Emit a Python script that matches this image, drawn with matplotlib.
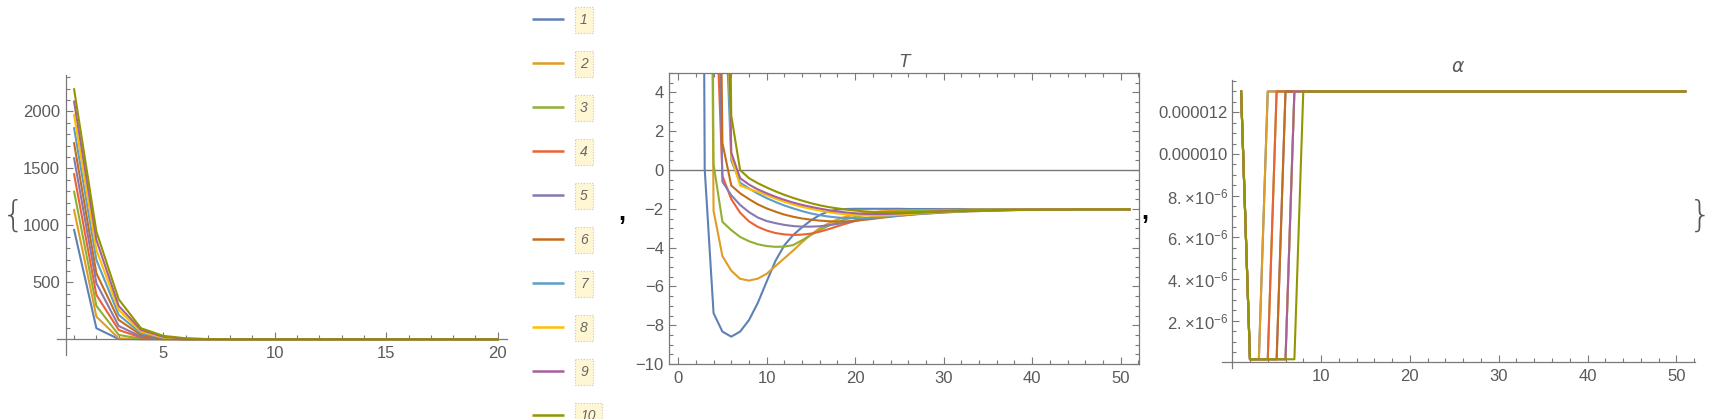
import matplotlib
matplotlib.use('Agg')
import numpy as np
import matplotlib.pyplot as plt
import matplotlib.ticker as mticker
from matplotlib.patches import Rectangle

plt.rcParams['font.family'] = ['Liberation Sans', 'DejaVu Sans']
plt.rcParams['mathtext.fontset'] = 'custom'
plt.rcParams['mathtext.rm'] = 'Liberation Sans'

# --- data -------------------------------------------------------------
colors = ['#5E81B5', '#E19C24', '#8FB032', '#EB6235', '#8778B3',
          '#C56E1A', '#5D9EC7', '#FFBF00', '#A5609D', '#929600']
labels = ['1', '2', '3', '4', '5', '6', '7', '8', '9', '10']

# first panel, x = 1..20
x1 = list(range(1, 21))
p1 = [
    [960, 97, 2, 0, 0, 0, 0, 0, 0, 0, 0, 0, 0, 0, 0, 0, 0, 0, 0, 0],
    [1135, 199, 8, 1, 0, 0, 0, 0, 0, 0, 0, 0, 0, 0, 0, 0, 0, 0, 0, 0],
    [1296, 293, 38, 6, 1, 0, 0, 0, 0, 0, 0, 0, 0, 0, 0, 0, 0, 0, 0, 0],
    [1449, 389, 82, 15, 2, 0, 0, 0, 0, 0, 0, 0, 0, 0, 0, 0, 0, 0, 0, 0],
    [1589, 492, 117, 23, 4, 1, 0, 0, 0, 0, 0, 0, 0, 0, 0, 0, 0, 0, 0, 0],
    [1721, 579, 170, 38, 7, 1, 0, 0, 0, 0, 0, 0, 0, 0, 0, 0, 0, 0, 0, 0],
    [1853, 697, 214, 53, 11, 2, 0, 0, 0, 0, 0, 0, 0, 0, 0, 0, 0, 0, 0, 0],
    [1970, 784, 258, 67, 15, 3, 0, 0, 0, 0, 0, 0, 0, 0, 0, 0, 0, 0, 0, 0],
    [2087, 872, 293, 82, 22, 5, 1, 0, 0, 0, 0, 0, 0, 0, 0, 0, 0, 0, 0, 0],
    [2195, 945, 351, 97, 30, 9, 2, 0, 0, 0, 0, 0, 0, 0, 0, 0, 0, 0, 0, 0],
]

# T panel, x = 1..51
x2 = list(range(1, 52))
T = [
    [220, 90, 0.05, -7.38, -8.33, -8.59, -8.33, -7.74, -6.85, -5.75,
     -4.68, -3.88, -3.35, -2.95, -2.6, -2.32, -2.13, -2.04, -2.01, -2.0,
     -2.0, -2.0, -2.0, -2.0, -2.0, -2.01, -2.01, -2.01, -2.01, -2.01,
     -2.01, -2.01, -2.02, -2.02, -2.02, -2.02, -2.02, -2.02, -2.02, -2.02,
     -2.02, -2.02, -2.02, -2.02, -2.03, -2.03, -2.03, -2.03, -2.03, -2.03, -2.03],
    [260, 180, 60, -2.1, -4.44, -5.19, -5.61, -5.7, -5.6, -5.35,
     -4.95, -4.55, -4.15, -3.72, -3.33, -3.0, -2.75, -2.55, -2.4, -2.3,
     -2.22, -2.17, -2.13, -2.11, -2.09, -2.08, -2.07, -2.06, -2.06, -2.05,
     -2.05, -2.05, -2.04, -2.04, -2.04, -2.04, -2.04, -2.03, -2.03, -2.03,
     -2.03, -2.03, -2.03, -2.03, -2.03, -2.03, -2.03, -2.03, -2.03, -2.03, -2.03],
    [280, 200, 70, 0.3, -2.67, -3.1, -3.45, -3.67, -3.83, -3.92,
     -3.96, -3.95, -3.87, -3.62, -3.35, -3.1, -2.87, -2.68, -2.53, -2.42,
     -2.33, -2.27, -2.22, -2.18, -2.15, -2.13, -2.11, -2.1, -2.09, -2.08,
     -2.07, -2.06, -2.06, -2.05, -2.05, -2.05, -2.04, -2.04, -2.04, -2.04,
     -2.04, -2.04, -2.03, -2.03, -2.03, -2.03, -2.03, -2.03, -2.03, -2.03, -2.03],
    [300, 220, 90, 12, -0.3, -1.5, -2.2, -2.65, -2.93, -3.12,
     -3.25, -3.32, -3.35, -3.33, -3.28, -3.18, -3.05, -2.9, -2.76, -2.63,
     -2.52, -2.43, -2.36, -2.3, -2.25, -2.21, -2.18, -2.16, -2.14, -2.12,
     -2.11, -2.1, -2.09, -2.08, -2.07, -2.06, -2.06, -2.05, -2.05, -2.05,
     -2.04, -2.04, -2.04, -2.04, -2.03, -2.03, -2.03, -2.03, -2.03, -2.03, -2.03],
    [320, 240, 110, 25, -0.6, -1.3, -1.8, -2.17, -2.45, -2.63,
     -2.74, -2.83, -2.89, -2.92, -2.92, -2.9, -2.85, -2.78, -2.7, -2.6,
     -2.52, -2.45, -2.39, -2.33, -2.28, -2.24, -2.21, -2.18, -2.16, -2.14,
     -2.12, -2.11, -2.1, -2.09, -2.08, -2.07, -2.06, -2.06, -2.05, -2.05,
     -2.05, -2.04, -2.04, -2.04, -2.04, -2.03, -2.03, -2.03, -2.03, -2.03, -2.03],
    [340, 260, 130, 40, 1.4, -0.8, -1.2, -1.5, -1.77, -1.98,
     -2.15, -2.3, -2.41, -2.5, -2.56, -2.61, -2.64, -2.66, -2.65, -2.62,
     -2.57, -2.52, -2.46, -2.41, -2.36, -2.32, -2.28, -2.25, -2.22, -2.19,
     -2.17, -2.15, -2.13, -2.12, -2.1, -2.09, -2.08, -2.07, -2.06, -2.06,
     -2.05, -2.05, -2.04, -2.04, -2.04, -2.03, -2.03, -2.03, -2.03, -2.03, -2.03],
    [360, 280, 150, 60, 12, 0.5, -0.65, -0.95, -1.22, -1.45,
     -1.65, -1.83, -1.98, -2.12, -2.24, -2.33, -2.4, -2.45, -2.48, -2.49,
     -2.48, -2.46, -2.43, -2.39, -2.35, -2.31, -2.27, -2.24, -2.21, -2.18,
     -2.16, -2.14, -2.12, -2.11, -2.09, -2.08, -2.07, -2.06, -2.06, -2.05,
     -2.05, -2.04, -2.04, -2.04, -2.03, -2.03, -2.03, -2.03, -2.03, -2.03, -2.03],
    [380, 300, 170, 70, 20, 0.7, -0.8, -0.98, -1.12, -1.3,
     -1.48, -1.64, -1.78, -1.9, -2.0, -2.09, -2.17, -2.24, -2.29, -2.33,
     -2.35, -2.36, -2.35, -2.33, -2.3, -2.27, -2.24, -2.21, -2.18, -2.16,
     -2.14, -2.12, -2.11, -2.1, -2.08, -2.07, -2.06, -2.06, -2.05, -2.05,
     -2.04, -2.04, -2.04, -2.04, -2.03, -2.03, -2.03, -2.03, -2.03, -2.03, -2.03],
    [400, 320, 190, 80, 25, 0.9, -0.42, -0.75, -1.0, -1.2,
     -1.38, -1.54, -1.68, -1.8, -1.9, -1.99, -2.07, -2.14, -2.19, -2.23,
     -2.26, -2.27, -2.27, -2.26, -2.24, -2.22, -2.2, -2.18, -2.16, -2.14,
     -2.12, -2.11, -2.1, -2.09, -2.08, -2.07, -2.06, -2.06, -2.05, -2.05,
     -2.04, -2.04, -2.04, -2.04, -2.03, -2.03, -2.03, -2.03, -2.03, -2.03, -2.03],
    [420, 340, 210, 100, 40, 2.8, 0.0, -0.42, -0.68, -0.9,
     -1.1, -1.28, -1.44, -1.58, -1.71, -1.82, -1.91, -1.98, -2.04, -2.09,
     -2.13, -2.16, -2.18, -2.19, -2.19, -2.19, -2.18, -2.17, -2.16, -2.14,
     -2.13, -2.12, -2.11, -2.1, -2.09, -2.08, -2.07, -2.06, -2.06, -2.05,
     -2.05, -2.04, -2.04, -2.04, -2.03, -2.03, -2.03, -2.03, -2.03, -2.03, -2.03],
]

# alpha panel: high level, low level, and last x of the dip per series
alpha_hi = 1.3e-5
alpha_lo = 1.5e-7
alpha_dip_last = [3, 3, 4, 4, 5, 5, 6, 6, 6, 7]
alpha_yticks = [2e-6, 4e-6, 6e-6, 8e-6, 10e-6, 12e-6]
alpha_ylabels = [r'$\mathregular{2.\!\times\!10^{-6}}$', r'$\mathregular{4.\!\times\!10^{-6}}$',
                 r'$\mathregular{6.\!\times\!10^{-6}}$', r'$\mathregular{8.\!\times\!10^{-6}}$',
                 '0.000010', '0.000012']

# --- layout -----------------------------------------------------------
W, H = 1725, 419
AXC = '#7a7a7a'
LBL = '#5a5a5a'
FS = 12

fig = plt.figure(figsize=(W / 100, H / 100), dpi=100)


def px_axes(l, t, r, b):
    return fig.add_axes([l / W, 1 - b / H, (r - l) / W, (b - t) / H])


# overlay in pixel coordinates for braces, commas and the legend
lax = fig.add_axes([0, 0, 1, 1])
lax.set_xlim(0, W)
lax.set_ylim(H, 0)
lax.axis('off')

lax.text(13, 216, '{', fontsize=26, color='#555555', ha='center', va='center',
         family='DejaVu Sans', fontweight='ultralight')
lax.text(1700, 216, '}', fontsize=26, color='#555555', ha='center', va='center',
         family='DejaVu Sans', fontweight='ultralight')
lax.text(622, 220, ',', fontsize=18, color='black', fontweight='bold', ha='center', va='baseline')
lax.text(1145, 219, ',', fontsize=18, color='black', fontweight='bold', ha='center', va='baseline')

for i, (c, lab) in enumerate(zip(colors, labels)):
    yy = 19 + 44 * i
    lax.plot([532, 564], [yy, yy], color=c, lw=1.8, solid_capstyle='butt')
    bw = 18 if len(lab) == 1 else 27
    lax.add_patch(Rectangle((575, yy - 12), bw, 26, facecolor='#FFF7D4',
                            edgecolor='#C8C8C8', lw=0.8, linestyle=(0, (1, 1.5))))
    lax.text(575 + bw / 2, yy + 1, lab, fontsize=10, style='italic', color='#666666',
             ha='center', va='center')


def style_ticks(ax, pad_x, pad_y):
    ax.tick_params(which='both', direction='in', color=AXC, width=0.8)
    ax.tick_params(which='major', length=5)
    ax.tick_params(which='minor', length=2.8)
    ax.tick_params(axis='x', which='major', labelsize=FS, labelcolor=LBL, pad=pad_x)
    ax.tick_params(axis='y', which='major', labelsize=FS, labelcolor=LBL, pad=pad_y)


# panel 1
ax1 = px_axes(56.7, 75, 506.7, 355)
for s, c in zip(p1, colors):
    ax1.plot(x1, s, color=c, lw=1.5)
ax1.set_xlim(0.22, 20.4)
ax1.set_ylim(-138, 2320)
ax1.spines['left'].set_position(('data', 0.62))
ax1.spines['bottom'].set_position(('data', 0))
ax1.spines['top'].set_visible(False)
ax1.spines['right'].set_visible(False)
for sp in ('left', 'bottom'):
    ax1.spines[sp].set_color(AXC)
    ax1.spines[sp].set_linewidth(0.9)
ax1.set_xticks([5, 10, 15, 20])
ax1.xaxis.set_minor_locator(mticker.FixedLocator([v for v in range(1, 21) if v % 5]))
ax1.set_yticks([500, 1000, 1500, 2000])
ax1.yaxis.set_minor_locator(mticker.FixedLocator([v for v in range(100, 2301, 100) if v % 500]))
style_ticks(ax1, 5, 4)
ax1.patch.set_alpha(0)

# panel 2 (T)
ax2 = px_axes(669.3, 73, 1139.3, 364)
ax2.axhline(0, color='#777777', lw=1.0, zorder=1)
for s, c in zip(T, colors):
    ax2.plot(x2, s, color=c, lw=1.5, zorder=2)
ax2.set_xlim(-1.0, 52.1)
ax2.set_ylim(-10, 5)
for sp in ax2.spines.values():
    sp.set_color(AXC)
    sp.set_linewidth(0.9)
ax2.set_xticks(range(0, 51, 10))
ax2.xaxis.set_minor_locator(mticker.MultipleLocator(2))
ax2.set_yticks(range(-10, 5, 2))
ax2.yaxis.set_minor_locator(mticker.MultipleLocator(0.5))
style_ticks(ax2, 5, 4)
ax2.tick_params(which='both', top=True, right=True)
ax2.set_title('T', style='italic', color=LBL, fontsize=13.5, pad=4)
ax2.patch.set_alpha(0)

# panel 3 (alpha)
ax3 = px_axes(1222, 80, 1695, 368)
for last, c in zip(alpha_dip_last, colors):
    ys = [alpha_hi if (x == 1 or x > last) else alpha_lo for x in x2]
    ax3.plot(x2, ys, color=c, lw=1.5)
ax3.set_xlim(-1.15, 52.1)
ax3.set_ylim(-2.7e-7, 1.355e-5)
ax3.spines['left'].set_position(('data', 0))
ax3.spines['bottom'].set_position(('data', 0))
ax3.spines['top'].set_visible(False)
ax3.spines['right'].set_visible(False)
for sp in ('left', 'bottom'):
    ax3.spines[sp].set_color(AXC)
    ax3.spines[sp].set_linewidth(0.9)
ax3.set_xticks(range(10, 51, 10))
ax3.xaxis.set_minor_locator(mticker.FixedLocator([v for v in range(2, 53, 2) if v % 10]))
ax3.set_yticks(alpha_yticks)
ax3.set_yticklabels(alpha_ylabels)
ax3.yaxis.set_minor_locator(mticker.FixedLocator(
    [v * 1e-7 for v in range(5, 136, 5) if v % 20]))
style_ticks(ax3, 5, 3)
ax3.set_title(r'$\alpha$', color=LBL, fontsize=13.5, pad=6)
ax3.patch.set_alpha(0)

fig.savefig('out.png', dpi=100)
